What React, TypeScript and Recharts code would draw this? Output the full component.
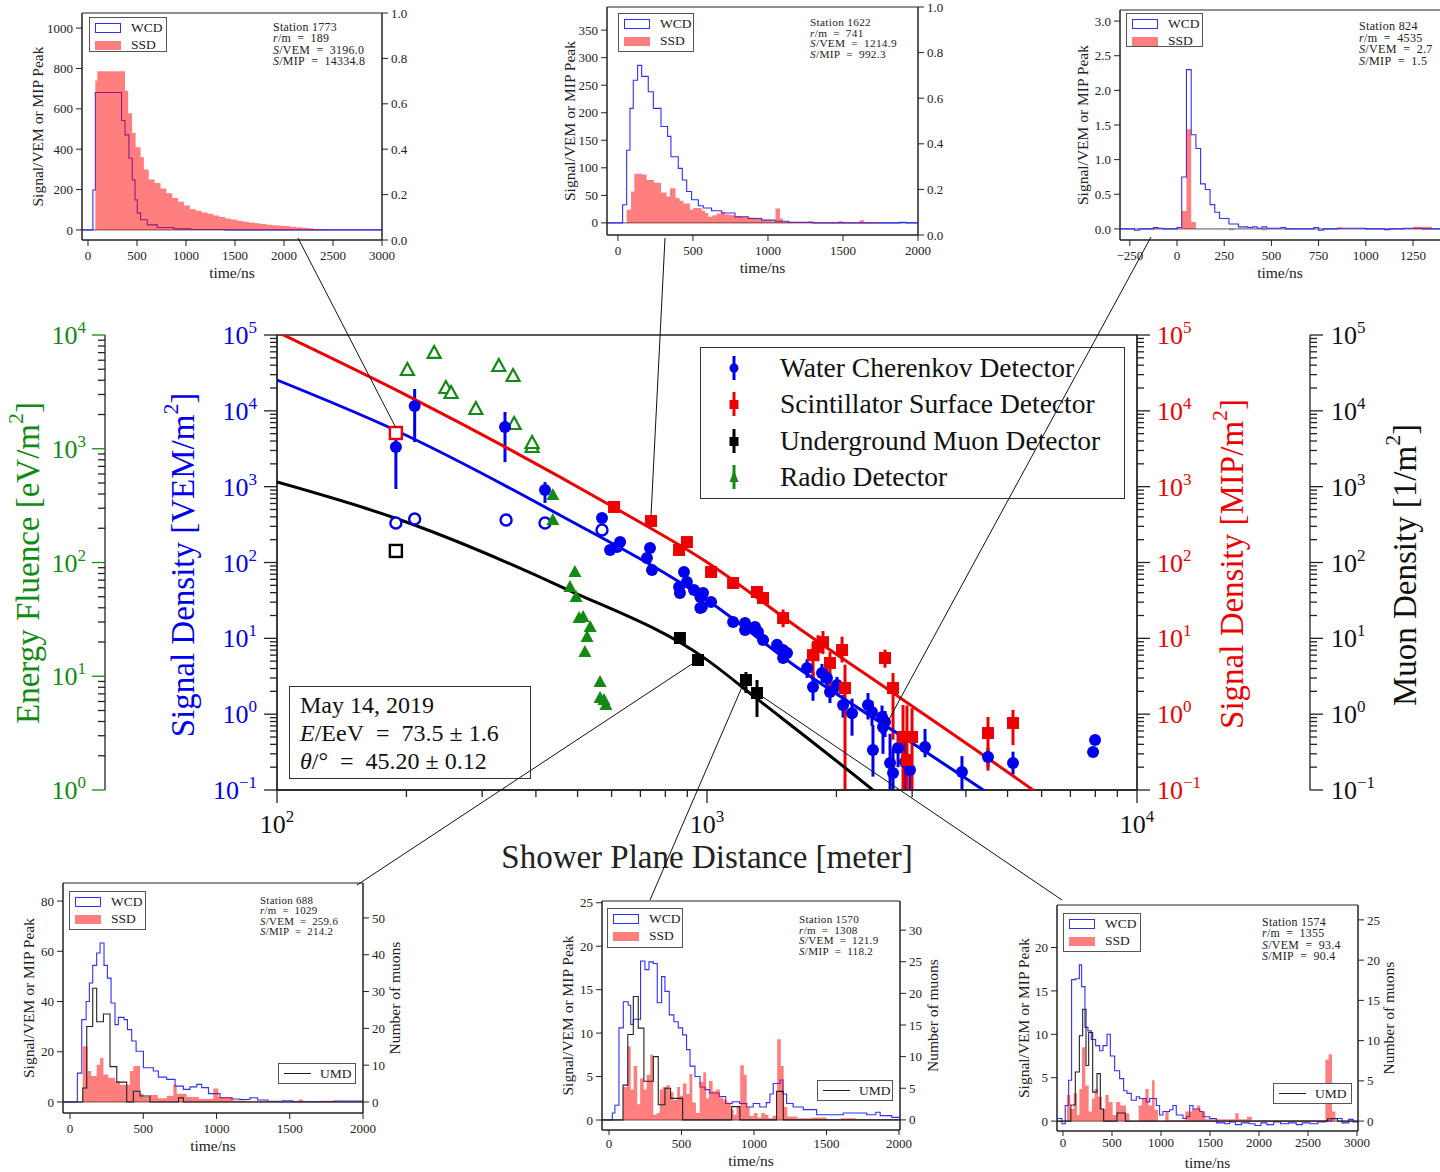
import React from "react";
import {
  ComposedChart,
  Scatter,
  Line,
  Area,
  XAxis,
  YAxis,
  ErrorBar,
  Legend,
  ReferenceArea,
  ReferenceLine,
} from "recharts";

const FONT = '"Liberation Serif", "DejaVu Serif", serif';
const BLUE = "#0000ee";
const RED = "#ee0000";
const GREEN = "#138a13";
const INK = "#222222";
const WCD_LINE = "#2f2fff";

// ---------------- lateral distribution (main panel) ----------------
// [r / m, signal, lower end of error bar, upper end] (0 = no visible bar)
const wcdHits = [
  [189, 3330, 931, 5590],
  [209, 11600, 3880, 19400],
  [339, 6120, 2110, 9660],
  [420, 904, 610, 1150],
  [570, 386, 0, 0],
  [595, 146, 0, 0],
  [618, 160, 0, 0],
  [628, 186, 0, 0],
  [725, 115, 0, 0],
  [737, 155, 0, 0],
  [745, 79.6, 0, 0],
  [861, 47.5, 0, 0],
  [865, 39.6, 0, 0],
  [884, 75, 0, 0],
  [898, 55.3, 0, 0],
  [933, 43.4, 0, 0],
  [965, 35.1, 0, 0],
  [965, 25.1, 0, 0],
  [973, 25.9, 0, 0],
  [979, 39.6, 0, 0],
  [1022, 30.1, 0, 0],
  [1150, 16.4, 0, 0],
  [1226, 15.9, 0, 0],
  [1226, 12.9, 0, 0],
  [1293, 14.1, 0, 0],
  [1314, 12.1, 0, 0],
  [1350, 9.5, 0, 0],
  [1455, 8.2, 0, 0],
  [1503, 7.0, 0, 0],
  [1503, 5.5, 0, 0],
  [1535, 6.4, 0, 0],
  [1709, 4.06, 3.0, 5.3],
  [1764, 2.28, 1.5, 3.6],
  [1851, 3.49, 2.6, 4.6],
  [1901, 3.0, 2.3, 3.9],
  [1932, 1.96, 1.4, 2.6],
  [2006, 2.42, 1.8, 3.1],
  [2072, 1.32, 0.9, 1.8],
  [2174, 1.03, 0.52, 1.6],
  [2368, 1.32, 0.85, 1.9],
  [2419, 1.07, 0.7, 1.5],
  [2432, 0.336, 0.15, 0.72],
  [2553, 0.916, 0.55, 1.3],
  [2566, 0.677, 0.3, 1.0],
  [2594, 0.787, 0.5, 1.1],
  [2665, 0.227, 0.1, 0.55],
  [2708, 0.168, 0.1, 0.35],
  [2782, 0.358, 0.2, 0.6],
  [2888, 0.234, 0.1, 0.45],
  [2966, 0.183, 0.1, 0.3],
  [3214, 0.369, 0.27, 0.64],
  [3917, 0.173, 0.1, 0.28],
  [4503, 0.272, 0.2, 0.36],
  [5148, 0.227, 0.16, 0.32],
  [7904, 0.317, 0, 0],
  [7989, 0.456, 0, 0],
];
const wcdSaturated = [[189, 332], [209, 375], [341, 363], [420, 332], [570, 268]];

const ssdHits = [
  [608, 540, 0, 0],
  [741, 352, 0, 0],
  [861, 146, 0, 0],
  [898, 186, 0, 0],
  [1022, 75, 0, 0],
  [1150, 53.7, 0, 0],
  [1307, 40.8, 0, 0],
  [1350, 34.0, 0, 0],
  [1503, 18.5, 14, 24],
  [1764, 6.0, 2.8, 8.7],
  [1812, 7.7, 5, 11],
  [1861, 8.9, 6.2, 12.5],
  [1932, 4.73, 2.2, 6.6],
  [2061, 7.0, 4.8, 10.5],
  [2094, 2.21, 0.1, 4.5],
  [2594, 5.5, 4.1, 7.1],
  [2708, 2.21, 0.46, 3.5],
  [2857, 0.5, 0.1, 1.32],
  [2918, 0.248, 0.1, 1.3],
  [2998, 0.5, 0.1, 1.2],
  [4503, 0.564, 0.18, 0.92],
  [5148, 0.764, 0.39, 1.14],
];
const ssdSaturated = [[189, 5100]];

const umdHits = [
  [865, 10.1, 0, 0],
  [953, 5.18, 0, 0],
  [1232, 2.82, 1.9, 3.6],
  [1307, 1.9, 0.92, 2.82],
];
const umdSaturated = [[189, 142]];

// energy fluence / (eV/m2)
const radioHits = [
  [438, 392], [438, 236], [493, 82.5], [480, 60.9], [496, 49.7], [504, 32.5], [515, 33.2],
  [535, 27.1], [526, 22.1], [520, 16.3], [564, 8.9], [564, 6.44], [576, 6.18], [582, 5.59],
];
const radioOpen = [
  [201, 4925], [232, 6950], [247, 3420], [254, 3090], [290, 2236], [328, 5340], [354, 4360],
  [356, 1651], [392, 1036], [392, 1124],
];

// fitted lateral distribution functions
const wcdFit = [[100, 25500], [188, 5590], [441, 463], [1000, 32], [1644, 3.9], [2810, 0.53], [4390, 0.1], [4700, 0.077]];
const ssdFit = [[100, 110000], [204, 15200], [594, 573], [1000, 101], [1644, 13.3], [2810, 1.65], [5730, 0.1], [6000, 0.083]];
const umdFit = [[100, 1150], [188, 386], [465, 46], [1000, 5.2], [1306, 1.6], [2430, 0.1], [2550, 0.08]];

const legendOrder = [
  "Water Cherenkov Detector",
  "Scintillator Surface Detector",
  "Underground Muon Detector",
  "Radio Detector",
];

const withErr = (rows: number[][]) =>
  rows.map(([r, s, lo, hi]) => ({ r, s, err: lo > 0 ? [s - lo, hi - s] : [0, 0] }));
const plain = (rows: number[][]) => rows.map(([r, s]) => ({ r, s }));

function logTicks(lo: number, hi: number) {
  const out: number[] = [];
  for (let e = lo; e < hi; e++) for (let m = 1; m < 10; m++) out.push(m * Math.pow(10, e));
  out.push(Math.pow(10, hi));
  return out;
}
const distTicks = logTicks(2, 4);
const signalTicks = logTicks(-1, 5);
const fluenceTicks = logTicks(0, 4);

function makeLogTick(side: "left" | "right" | "bottom", color: string, gap: number, majorColor = INK) {
  return function LogTick(props: any) {
    const { x, y, payload } = props;
    const v = Number(payload?.value);
    const lg = Math.log10(v);
    const e = Math.round(lg);
    const major = Math.abs(lg - e) < 1e-6;
    const len = major ? 13 : 7;
    const exp = e < 0 ? "\u2212" + -e : String(e);
    const body = (
      <>
        10
        <tspan dy={-11} fontSize={17}>
          {exp}
        </tspan>
      </>
    );
    if (side === "bottom") {
      return (
        <g>
          <line x1={x} x2={x} y1={y} y2={y + len} stroke={INK} strokeWidth={1.3} />
          {major && (
            <text x={x} y={y + 43} textAnchor="middle" fontSize={26} fill={color} fontFamily={FONT}>
              {body}
            </text>
          )}
        </g>
      );
    }
    const dir = side === "left" ? -1 : 1;
    return (
      <g>
        <line x1={x} x2={x + dir * len} y1={y} y2={y} stroke={major ? majorColor : INK} strokeWidth={1.3} />
        {major && (
          <text
            x={x + dir * gap}
            y={y + 9}
            textAnchor={side === "left" ? "end" : "start"}
            fontSize={26}
            fill={color}
            fontFamily={FONT}
          >
            {body}
          </text>
        )}
      </g>
    );
  };
}

const VTitle = ({ px, py, color, size, head, unit }: any) => (
  <text
    transform={`translate(${px},${py}) rotate(-90)`}
    textAnchor="middle"
    dominantBaseline="central"
    fill={color}
    fontSize={size}
    fontFamily={FONT}
  >
    {head} [{unit}
    <tspan dy={-12} fontSize={size * 0.66}>
      2
    </tspan>
    <tspan dy={12}>]</tspan>
  </text>
);

const HTitle = ({ px, py, size, text, color = INK }: any) => (
  <text x={px} y={py} textAnchor="middle" fill={color} fontSize={size} fontFamily={FONT}>
    {text}
  </text>
);

function shape(kind: string, color: string, filled: boolean) {
  return function Mark(p: any) {
    const { cx, cy } = p;
    if (!Number.isFinite(cx) || !Number.isFinite(cy)) return <g />;
    const fill = filled ? color : "#fff";
    const sw = filled ? 0 : 2.4;
    if (kind === "circle") return <circle cx={cx} cy={cy} r={filled ? 6 : 5.5} fill={fill} stroke={color} strokeWidth={sw} />;
    if (kind === "square")
      return <rect x={cx - 6} y={cy - 6} width={12} height={12} fill={fill} stroke={color} strokeWidth={sw} />;
    return (
      <polygon
        points={`${cx},${cy - 7} ${cx - 6.5},${cy + 5} ${cx + 6.5},${cy + 5}`}
        fill={fill}
        stroke={color}
        strokeWidth={filled ? 0 : 2.2}
      />
    );
  };
}
const noDot = () => <g />;

const legendGlyphs: Record<string, { color: string; kind: string }> = {
  "Water Cherenkov Detector": { color: BLUE, kind: "circle" },
  "Scintillator Surface Detector": { color: RED, kind: "square" },
  "Underground Muon Detector": { color: "#000", kind: "square" },
  "Radio Detector": { color: GREEN, kind: "triangle" },
};

function MainOverlay(props: any) {
  const items = (props.payload || [])
    .filter((p: any) => legendGlyphs[p.value])
    .sort((a: any, b: any) => legendOrder.indexOf(a.value) - legendOrder.indexOf(b.value));
  return (
    <div style={{ position: "relative", width: 1440, height: 580, fontFamily: FONT, color: "#111" }}>
      <div
        style={{
          position: "absolute",
          left: 700,
          top: 47,
          width: 425,
          height: 152,
          border: "1.5px solid #333",
          background: "#fff",
          boxSizing: "border-box",
        }}
      >
        {items.map((it: any, i: number) => {
          const g = legendGlyphs[it.value];
          return (
            <div key={it.value} style={{ position: "absolute", left: 0, top: 2 + i * 36.3, width: 420, height: 36 }}>
              <svg width={60} height={36} style={{ position: "absolute", left: 13, top: 0 }}>
                <line x1={20} x2={20} y1={6} y2={30} stroke={g.color} strokeWidth={3} />
                {g.kind === "circle" && <circle cx={20} cy={18} r={4.5} fill={g.color} />}
                {g.kind === "square" && <rect x={15.5} y={14} width={9} height={9} fill={g.color} />}
                {g.kind === "triangle" && <polygon points="20,11 15.5,23 24.5,23" fill={g.color} />}
              </svg>
              <span
                style={{
                  position: "absolute",
                  left: 79,
                  top: 0,
                  lineHeight: "36px",
                  fontSize: 27.5,
                  whiteSpace: "nowrap",
                }}
              >
                {it.value}
              </span>
            </div>
          );
        })}
      </div>
      <div
        style={{
          position: "absolute",
          left: 289,
          top: 386,
          width: 242,
          height: 93,
          border: "1.5px solid #333",
          background: "#fff",
          boxSizing: "border-box",
          padding: "4px 0 0 10px",
          fontSize: 24,
          lineHeight: "28px",
          whiteSpace: "nowrap",
        }}
      >
        <div>May 14, 2019</div>
        <div>
          <i>E</i>/EeV{"\u2002=\u2002"}73.5 ± 1.6
        </div>
        <div>
          <i>θ</i>/°{"\u2002=\u2002"}45.20 ± 0.12
        </div>
      </div>
    </div>
  );
}

function MainChart() {
  return (
    <ComposedChart width={1440} height={580} margin={{ top: 35, right: 0, bottom: 0, left: 0 }}>
      <XAxis
        dataKey="r"
        type="number"
        scale="log"
        domain={[100, 10000]}
        allowDataOverflow
        ticks={distTicks}
        interval={0}
        height={90}
        tickLine={false}
        tickSize={0}
        tickMargin={0}
        tick={makeLogTick("bottom", "#111", 0)}
        stroke={INK}
        strokeWidth={1.3}
        label={<HTitle px={707} py={568} size={33} text="Shower Plane Distance [meter]" />}
      />
      <YAxis
        yAxisId="b_radio"
        dataKey="s"
        type="number"
        scale="log"
        domain={[1, 10000]}
        allowDataOverflow
        ticks={fluenceTicks}
        interval={0}
        width={105}
        tickLine={false}
        tickSize={0}
        tickMargin={0}
        tick={makeLogTick("left", GREEN, 19, GREEN)}
        stroke={INK}
        strokeWidth={1.3}
        label={<VTitle px={28} py={263} color={GREEN} size={33} head="Energy Fluence" unit="eV/m" />}
      />
      <YAxis
        yAxisId="a_vem"
        dataKey="s"
        type="number"
        scale="log"
        domain={[0.1, 100000]}
        allowDataOverflow
        ticks={signalTicks}
        interval={0}
        width={172}
        tickLine={false}
        tickSize={0}
        tickMargin={0}
        tick={makeLogTick("left", BLUE, 20)}
        stroke={INK}
        strokeWidth={1.3}
        label={<VTitle px={183} py={265} color={BLUE} size={33} head="Signal Density" unit="VEM/m" />}
      />
      <YAxis
        yAxisId="c_mip"
        orientation="right"
        dataKey="s"
        type="number"
        scale="log"
        domain={[0.1, 100000]}
        allowDataOverflow
        ticks={signalTicks}
        interval={0}
        width={173}
        tickLine={false}
        tickSize={0}
        tickMargin={0}
        tick={makeLogTick("right", RED, 20)}
        stroke={INK}
        strokeWidth={1.3}
        label={<VTitle px={1232} py={264} color={RED} size={33} head="Signal Density" unit="MIP/m" />}
      />
      <YAxis
        yAxisId="d_muon"
        orientation="right"
        dataKey="s"
        type="number"
        scale="log"
        domain={[0.1, 100000]}
        allowDataOverflow
        ticks={signalTicks}
        interval={0}
        width={130}
        tickLine={false}
        tickSize={0}
        tickMargin={0}
        tick={makeLogTick("right", "#111", 21)}
        stroke={INK}
        strokeWidth={1.3}
        label={<VTitle px={1405} py={265} color="#111" size={33} head="Muon Density" unit="1/m" />}
      />
      <ReferenceArea
        yAxisId="a_vem"
        x1={100}
        x2={10000}
        y1={0.1}
        y2={100000}
        fill="none"
        fillOpacity={0}
        stroke={INK}
        strokeWidth={1.3}
      />

      <Scatter yAxisId="a_vem" data={plain(wcdFit)} dataKey="s" line={{ stroke: BLUE, strokeWidth: 3 }} lineJointType="monotoneX" shape={noDot} legendType="none" isAnimationActive={false} />
      <Scatter yAxisId="c_mip" data={plain(ssdFit)} dataKey="s" line={{ stroke: RED, strokeWidth: 3 }} lineJointType="monotoneX" shape={noDot} legendType="none" isAnimationActive={false} />
      <Scatter yAxisId="d_muon" data={plain(umdFit)} dataKey="s" line={{ stroke: "#000", strokeWidth: 3 }} lineJointType="monotoneX" shape={noDot} legendType="none" isAnimationActive={false} />

      <Scatter yAxisId="b_radio" data={plain(radioOpen)} dataKey="s" shape={shape("triangle", GREEN, false)} legendType="none" isAnimationActive={false} />
      <Scatter yAxisId="a_vem" data={plain(wcdSaturated)} dataKey="s" shape={shape("circle", BLUE, false)} legendType="none" isAnimationActive={false} />
      <Scatter yAxisId="c_mip" data={plain(ssdSaturated)} dataKey="s" shape={shape("square", RED, false)} legendType="none" isAnimationActive={false} />
      <Scatter yAxisId="d_muon" data={plain(umdSaturated)} dataKey="s" shape={shape("square", "#000", false)} legendType="none" isAnimationActive={false} />

      <Scatter name="Water Cherenkov Detector" yAxisId="a_vem" data={withErr(wcdHits)} dataKey="s" fill={BLUE} shape={shape("circle", BLUE, true)} isAnimationActive={false}>
        <ErrorBar dataKey="err" direction="y" width={0} stroke={BLUE} strokeWidth={3} />
      </Scatter>
      <Scatter name="Scintillator Surface Detector" yAxisId="c_mip" data={withErr(ssdHits)} dataKey="s" fill={RED} shape={shape("square", RED, true)} isAnimationActive={false}>
        <ErrorBar dataKey="err" direction="y" width={0} stroke={RED} strokeWidth={3} />
      </Scatter>
      <Scatter name="Underground Muon Detector" yAxisId="d_muon" data={withErr(umdHits)} dataKey="s" fill="#000" shape={shape("square", "#000", true)} isAnimationActive={false}>
        <ErrorBar dataKey="err" direction="y" width={0} stroke="#000" strokeWidth={3} />
      </Scatter>
      <Scatter name="Radio Detector" yAxisId="b_radio" data={plain(radioHits)} dataKey="s" fill={GREEN} shape={shape("triangle", GREEN, true)} isAnimationActive={false} />

      <Legend
        content={MainOverlay}
        layout="horizontal"
        verticalAlign="middle"
        align="center"
        wrapperStyle={{ left: 0, top: 0, width: 1440, height: 580 }}
      />
    </ComposedChart>
  );
}

// ---------------- station traces (insets) ----------------
// step histograms: [bin start / ns, value]
const st1773Wcd = [[-61, 0], [50, 198], [75, 681], [343, 542], [378, 471], [418, 355], [452, 248], [480, 149], [503, 83], [537, 50], [605, 25], [707, 12], [877, 5], [1048, 2], [1400, 0], [3000, 0]];
const st1773Ssd = [[-61, 0], [75, 740], [95, 786], [378, 690], [410, 578], [450, 480], [486, 410], [537, 360], [571, 300], [620, 250], [680, 232], [740, 205], [800, 182], [860, 158], [920, 140], [980, 121], [1040, 102], [1100, 95], [1160, 86], [1220, 80], [1280, 72], [1340, 64], [1400, 57], [1460, 51], [1520, 46], [1580, 41], [1640, 37], [1700, 33], [1760, 29], [1820, 26], [1880, 23], [1940, 21], [2000, 19], [2060, 16], [2120, 13], [2180, 11], [2240, 8], [2300, 4], [2360, 2], [2420, 0], [3000, 0]];

const st1622Wcd = [[-73, 0], [31, 33], [58, 132], [80, 208], [102, 259], [131, 286], [158, 266], [202, 238], [236, 208], [287, 175], [331, 157], [353, 120], [402, 99], [429, 78], [458, 57], [491, 42], [536, 31], [569, 27], [624, 22], [691, 18], [780, 11], [869, 8], [958, 5], [1047, 3], [1136, 1], [1300, 0], [1880, 1], [1920, 0], [2000, 0]];
const st1622Ssd = [[-73, 0], [58, 24], [87, 57], [109, 89], [162, 88], [191, 78], [240, 73], [287, 55], [324, 48], [347, 63], [384, 45], [410, 40], [436, 35], [480, 24], [502, 27], [558, 22], [580, 18], [602, 11], [630, 14], [658, 17], [690, 20], [713, 15], [750, 14], [780, 12], [830, 10], [913, 7], [960, 5], [1024, 3], [1050, 26], [1080, 8], [1100, 2], [1150, 1], [1270, 3], [1300, 1], [1470, 3], [1500, 1], [1610, 5], [1640, 1], [1700, 0.5], [1750, 0], [2000, 0]];

const st824Wcd = [[-302, 0], [-225, -0.02], [-200, 0], [-125, 0.02], [-100, 0.01], [-75, 0], [0, 0.02], [25, 0.75], [50, 2.3], [75, 1.36], [100, 1.16], [125, 0.65], [150, 0.57], [175, 0.35], [200, 0.24], [225, 0.15], [275, 0.07], [325, 0.03], [375, 0.02], [400, 0.03], [425, 0.01], [450, 0.03], [475, 0.01], [550, 0.02], [575, 0], [725, 0.02], [750, -0.02], [775, 0], [850, 0.01], [1000, 0], [1100, -0.01], [1125, 0], [1200, 0.01], [1300, 0], [1480, 0]];
const st824Ssd = [[-302, 0], [-125, 0.02], [-100, 0], [25, 0.26], [50, 1.44], [75, 0.1], [100, 0], [275, -0.02], [300, 0], [450, -0.02], [475, 0], [850, 0.02], [875, 0], [1125, -0.01], [1150, 0], [1250, 0.03], [1350, 0], [1480, 0]];

const st688Wcd = [[-48, 0], [50, 11.5], [80, 32.8], [110, 40], [132, 47.4], [155, 54.4], [182, 59.3], [205, 63.3], [232, 54.4], [255, 49.3], [280, 39.4], [307, 30.8], [330, 33.7], [369, 32.8], [392, 28.8], [421, 24.3], [451, 20.2], [501, 13.6], [569, 12.3], [603, 9.9], [660, 9], [717, 6.3], [774, 5], [819, 6], [865, 7], [899, 5.7], [945, 3.3], [1024, 1.7], [1100, 1.2], [1160, 1], [1228, 1.7], [1280, 0.8], [1350, 0.3], [1450, 0.5], [1520, 0.2], [1800, 0.4], [2000, 0.4]];
const st688Ssd = [[-48, 0], [87, 22.2], [121, 12.3], [144, 10.3], [182, 14.8], [205, 17.5], [228, 10.9], [262, 9.6], [307, 8.2], [341, 6.9], [409, 12.3], [432, 14.3], [478, 3.3], [501, 2], [546, 2.8], [600, 1.5], [660, 2.5], [705, 6.9], [728, 3.3], [796, 2], [880, 1.2], [978, 5.4], [1012, 2], [1115, 0.6], [1200, 0.2], [1300, 0.4], [1420, 0.1], [1560, 1], [1590, 0.2], [1700, 0.5], [1800, 0.2], [2000, 0]];
const st688Umd = [[-48, 0], [87, 3.8], [114, 20.5], [155, 30.9], [182, 21.8], [228, 23.9], [273, 9.6], [319, 5.4], [387, 0], [432, 2.9], [478, 1.6], [546, 0], [740, 1.1], [774, 0], [2000, 0]];

const st1570Wcd = [[-48, 0], [23, 0.8], [41, 1.7], [69, 10.6], [99, 13.6], [133, 13.2], [150, 11], [168, 11.6], [218, 18.3], [248, 17.3], [276, 18.2], [306, 18], [333, 13.5], [363, 16.5], [386, 14.8], [416, 12.1], [448, 11.3], [478, 10.6], [508, 9.8], [535, 8.1], [559, 6.2], [593, 5], [628, 3.8], [662, 3.5], [692, 3.1], [760, 2.7], [805, 1.9], [850, 2.1], [900, 1.9], [950, 1.5], [995, 1.9], [1040, 1.5], [1085, 2], [1110, 3], [1133, 4.2], [1180, 4.6], [1200, 3], [1225, 1.9], [1270, 1.5], [1340, 1.2], [1432, 0.6], [1616, 0.8], [1777, 0.6], [1840, 0.9], [1870, 0.5], [1950, 0.3], [2007, 0.3]];
const st1570Ssd = [[-48, 0], [97, 3.8], [125, 8.5], [150, 3.5], [170, 6.2], [195, 1.8], [215, 4.8], [240, 3.5], [260, 5.2], [285, 7.5], [305, 0.6], [330, 0.8], [350, 3.5], [370, 3.8], [395, 4], [420, 3.2], [445, 2.3], [470, 3.8], [490, 2.8], [510, 4.2], [535, 3], [555, 5.3], [575, 2], [600, 0.8], [625, 4.4], [650, 5.5], [670, 2.5], [690, 4.5], [715, 3.3], [740, 3.5], [765, 2.6], [790, 2.3], [815, 2], [840, 1.2], [860, 0.6], [880, 1.5], [905, 6.3], [930, 5.2], [950, 1.5], [970, 0.5], [1000, 0.8], [1025, 0.3], [1050, 0.8], [1075, 0.6], [1100, 0.2], [1130, 0.5], [1160, 9.3], [1185, 6.2], [1205, 1.5], [1230, 0.4], [1300, 0.2], [1400, 0.3], [1500, 0.1], [1600, 0.2], [1700, 0.1], [2007, 0]];
const st1570Umd = [[-48, 0], [97, 5.5], [130, 13.5], [168, 19.5], [202, 14.5], [241, 6.1], [306, 10], [340, 2.4], [386, 5], [425, 3.4], [508, 0], [846, 2.1], [903, 0], [1156, 4.5], [1202, 0], [2007, 0]];

const st1574Wcd = [[-61, 0.3], [-11, -0.3], [23, 1.8], [58, 4.7], [88, 16.3], [126, 16.4], [167, 18], [190, 15.5], [224, 10.8], [255, 10.4], [289, 9.4], [333, 8.7], [374, 8.1], [408, 8.7], [449, 10], [483, 7.5], [527, 5.8], [578, 4.9], [619, 3.5], [653, 3.2], [697, 2.4], [748, 2.8], [782, 2.6], [850, 2.2], [884, 2.6], [952, 1.8], [986, 0.7], [1020, 1.1], [1088, 1.3], [1122, 1.8], [1156, 0.7], [1224, 0.3], [1258, 0.5], [1293, 1.8], [1327, 1.4], [1395, 1.1], [1429, 0.5], [1497, 0.3], [1565, -0.2], [1650, -0.3], [1700, -0.1], [1760, -0.4], [1820, -0.2], [1900, -0.3], [1960, -0.5], [2020, -0.2], [2080, -0.4], [2150, -0.1], [2220, -0.3], [2300, -0.2], [2380, -0.4], [2440, -0.2], [2520, -0.3], [2600, -0.1], [2677, 0], [2740, 0.3], [2847, -0.2], [2915, 0.2], [2960, -0.1], [3010, 0]];
const st1574Ssd = [[-61, 0], [41, 3], [75, 1.4], [109, 3.2], [143, 0.7], [167, 3.7], [194, 8.5], [228, 4.1], [262, 1.1], [296, 2.6], [323, 3.7], [357, 2.8], [398, 1.4], [432, 3], [466, 2.2], [507, 0.7], [541, 2.2], [585, 1.8], [643, 0.9], [677, 0], [772, 1.8], [806, 2.6], [840, 3.7], [874, 1.8], [908, 4.7], [935, 1.3], [969, 0], [1044, 1.1], [1078, 0.1], [1248, 1.1], [1316, 1.4], [1367, 1.8], [1401, 1.1], [1452, 0.2], [1758, 0.9], [1792, 0.2], [1877, 0.5], [1928, 0.1], [2677, 7.1], [2711, 7.7], [2745, 1.1], [2779, 0], [3010, 0]];
const st1574Umd = [[-61, 0], [81, 2], [126, 6.1], [167, 10.6], [201, 13.9], [235, 6.9], [262, 11], [303, 3.6], [347, 5.9], [381, 1.5], [415, 0], [551, 1], [636, 0], [2700, 0.3], [2800, 0], [3010, 0]];

interface InsetCfg {
  frame: number[];
  xDomain: number[];
  xTicks: number[];
  lDomain: number[];
  lTicks: number[];
  lDigits: number;
  rDomain: number[];
  rTicks: number[];
  rDigits: number;
  rTitle?: boolean;
  rOffCanvas?: boolean;
  wcd: number[][];
  ssd: number[][];
  umd?: number[][];
  station: string[];
  stationAt: number[];
  legendAt: number[];
  umdAt?: number[];
  titleGap: number;
  rTitleGap?: number;
  xTitleGap?: number;
  xTickGap?: number[];
}

const insets: InsetCfg[] = [
  {
    frame: [82, 13, 382, 240], xDomain: [-61, 3000], xTicks: [0, 500, 1000, 1500, 2000, 2500, 3000],
    lDomain: [-50, 1075], lTicks: [0, 200, 400, 600, 800, 1000], lDigits: 0,
    rDomain: [0, 1], rTicks: [0, 0.2, 0.4, 0.6, 0.8, 1], rDigits: 1,
    wcd: st1773Wcd, ssd: st1773Ssd, station: ["1773", "189", "3196.0", "14334.8"],
    stationAt: [273, 22, 11.3], legendAt: [89, 17, 78, 35], titleGap: 45,
  },
  {
    frame: [607, 7, 918, 235], xDomain: [-73, 2000], xTicks: [0, 500, 1000, 1500, 2000],
    lDomain: [-22, 392], lTicks: [0, 50, 100, 150, 200, 250, 300, 350], lDigits: 0,
    rDomain: [0, 1], rTicks: [0, 0.2, 0.4, 0.6, 0.8, 1], rDigits: 1,
    wcd: st1622Wcd, ssd: st1622Ssd, station: ["1622", "741", "1214.9", "992.3"],
    stationAt: [810, 17, 10.7], legendAt: [618, 13, 76, 39], titleGap: 38,
  },
  {
    frame: [1120, 10, 1467, 240], xDomain: [-302, 1536], xTicks: [-250, 0, 250, 500, 750, 1000, 1250],
    lDomain: [-0.16, 3.16], lTicks: [0, 0.5, 1, 1.5, 2, 2.5, 3], lDigits: 1,
    rDomain: [0, 1], rTicks: [0, 0.2, 0.4, 0.6, 0.8, 1], rDigits: 1, rOffCanvas: true,
    wcd: st824Wcd, ssd: st824Ssd, station: ["824", "4535", "2.7", "1.5"],
    stationAt: [1359, 21, 11.5], legendAt: [1126, 13, 77, 34], titleGap: 38,
  },
  {
    frame: [63, 883, 363, 1113], xDomain: [-48, 2000], xTicks: [0, 500, 1000, 1500, 2000],
    lDomain: [-4.4, 87.2], lTicks: [0, 20, 40, 60, 80], lDigits: 0,
    rDomain: [-3, 59.5], rTicks: [0, 10, 20, 30, 40, 50], rDigits: 0, rTitle: true, rTitleGap: 31,
    wcd: st688Wcd, ssd: st688Ssd, umd: st688Umd, station: ["688", "1029", "259.6", "214.2"],
    stationAt: [260, 895, 10.3], legendAt: [69, 891, 77, 39], umdAt: [278, 1063, 78, 21], titleGap: 35,
  },
  {
    frame: [602, 901, 900, 1130], xDomain: [-48, 2007], xTicks: [0, 500, 1000, 1500, 2000],
    lDomain: [-1.15, 25.2], lTicks: [0, 5, 10, 15, 20, 25], lDigits: 0,
    rDomain: [-1.6, 34.6], rTicks: [0, 5, 10, 15, 20, 25, 30], rDigits: 0, rTitle: true, rTitleGap: 32,
    wcd: st1570Wcd, ssd: st1570Ssd, umd: st1570Umd, station: ["1570", "1308", "121.9", "118.2"],
    stationAt: [799, 914, 10.5], legendAt: [607, 908, 76, 40], umdAt: [817, 1080, 76, 21], titleGap: 35,
    xTitleGap: 36, xTickGap: [5, 4],
  },
  {
    frame: [1057, 905, 1358, 1131], xDomain: [-61, 3010], xTicks: [0, 500, 1000, 1500, 2000, 2500, 3000],
    lDomain: [-1.14, 24.9], lTicks: [0, 5, 10, 15, 20], lDigits: 0,
    rDomain: [-1.23, 26.85], rTicks: [0, 5, 10, 15, 20, 25], rDigits: 0, rTitle: true, rTitleGap: 30,
    wcd: st1574Wcd, ssd: st1574Ssd, umd: st1574Umd, station: ["1574", "1355", "93.4", "90.4"],
    stationAt: [1262, 917, 11.3], legendAt: [1063, 913, 78, 39], umdAt: [1273, 1083, 79, 21], titleGap: 34,
    xTitleGap: 37, xTickGap: [5, 2],
  },
];

const PADL = 62;
const PADR = 62;
const PADT = 12;
const PADB = 48;
const steps = (rows: number[][]) => rows.map(([t, v]) => ({ t, v }));
const fmt = (d: number) => (v: number) => (v < 0 ? "\u2212" + (-v).toFixed(d) : v.toFixed(d));
const tickStyle = { fontSize: 13, fill: INK, fontFamily: FONT };
const EQ = "\u2002=\u2002";

const InsetVTitle = ({ px, py, text }: any) => (
  <text transform={`translate(${px},${py}) rotate(-90)`} textAnchor="middle" dominantBaseline="central" fill={INK} fontSize={15.5} fontFamily={FONT}>
    {text}
  </text>
);

function Inset({ cfg }: { cfg: InsetCfg }) {
  const [x0, y0, x1, y1] = cfg.frame;
  const W = x1 - x0 + PADL + PADR;
  const H = y1 - y0 + PADT + PADB;
  const ox = x0 - PADL;
  const oy = y0 - PADT;
  const midY = (y0 + y1) / 2 - oy;
  const [lx, ly, lw, lh] = cfg.legendAt;
  const [sx, sy, sp] = cfg.stationAt;
  const sFont = Math.min(12.3, sp + 0.6);
  const [xtSize, xtMargin] = cfg.xTickGap || [6, 5];
  const overlay = () => (
    <div style={{ position: "relative", width: W, height: H, fontFamily: FONT, color: INK }}>
      <div style={{ position: "absolute", left: lx - ox, top: ly - oy, width: lw, height: lh, border: "1px solid #555", background: "#fff", boxSizing: "border-box" }}>
        <div style={{ position: "absolute", left: 5, top: 5, width: 26, height: 10, border: `1.3px solid ${WCD_LINE}`, boxSizing: "border-box" }} />
        <span style={{ position: "absolute", left: 41, top: 2, fontSize: 13.5, lineHeight: "15px" }}>WCD</span>
        <div style={{ position: "absolute", left: 5, top: 23, width: 26, height: 9, background: "rgba(255,0,0,0.5)" }} />
        <span style={{ position: "absolute", left: 41, top: 19, fontSize: 13.5, lineHeight: "15px" }}>SSD</span>
      </div>
      {cfg.umdAt && (
        <div style={{ position: "absolute", left: cfg.umdAt[0] - ox, top: cfg.umdAt[1] - oy, width: cfg.umdAt[2], height: cfg.umdAt[3], border: "1px solid #555", background: "#fff", boxSizing: "border-box" }}>
          <div style={{ position: "absolute", left: 5, top: 9, width: 27, height: 0, borderTop: "1.2px solid #222" }} />
          <span style={{ position: "absolute", left: 41, top: 2, fontSize: 13.5, lineHeight: "15px" }}>UMD</span>
        </div>
      )}
      <div style={{ position: "absolute", left: sx - ox, top: sy - oy, fontSize: sFont, lineHeight: `${sp}px`, letterSpacing: 0.3, whiteSpace: "nowrap" }}>
        <div>Station {cfg.station[0]}</div>
        <div>
          <i>r</i>/m{EQ}{cfg.station[1]}
        </div>
        <div>
          <i>S</i>/VEM{EQ}{cfg.station[2]}
        </div>
        <div>
          <i>S</i>/MIP{EQ}{cfg.station[3]}
        </div>
      </div>
    </div>
  );
  return (
    <div style={{ position: "absolute", left: ox, top: oy }}>
      <ComposedChart width={W} height={H} margin={{ top: PADT, right: 0, bottom: 0, left: 0 }}>
        <XAxis
          dataKey="t"
          type="number"
          domain={cfg.xDomain}
          allowDataOverflow
          ticks={cfg.xTicks}
          interval={0}
          height={PADB}
          tickSize={xtSize}
          tickMargin={xtMargin}
          stroke={INK}
          tick={tickStyle}
          tickFormatter={fmt(0)}
          label={<HTitle px={(Math.min(x1, 1440) + x0) / 2 - ox} py={y1 - oy + (cfg.xTitleGap || 38)} size={15.5} text="time/ns" />}
        />
        <YAxis
          yAxisId="l"
          type="number"
          domain={cfg.lDomain}
          allowDataOverflow
          ticks={cfg.lTicks}
          interval={0}
          width={PADL}
          tickSize={6}
          tickMargin={3}
          stroke={INK}
          tick={tickStyle}
          tickFormatter={fmt(cfg.lDigits)}
          label={<InsetVTitle px={PADL - cfg.titleGap} py={midY} text="Signal/VEM or MIP Peak" />}
        />
        <YAxis
          yAxisId="r"
          orientation="right"
          type="number"
          domain={cfg.rDomain}
          allowDataOverflow
          ticks={cfg.rTicks}
          interval={0}
          width={PADR}
          tickSize={6}
          tickMargin={3}
          stroke={INK}
          tick={cfg.rOffCanvas ? false : tickStyle}
          tickFormatter={fmt(cfg.rDigits)}
          label={cfg.rTitle ? <InsetVTitle px={x1 - ox + (cfg.rTitleGap || 30)} py={midY} text="Number of muons" /> : undefined}
        />
        <ReferenceArea yAxisId="l" x1={cfg.xDomain[0]} x2={cfg.xDomain[1]} y1={cfg.lDomain[0]} y2={cfg.lDomain[1]} fill="none" fillOpacity={0} stroke={INK} strokeWidth={1} />
        <ReferenceLine yAxisId="l" y={0} stroke="#555" strokeWidth={1} />
        <Line yAxisId="l" name="WCD" data={steps(cfg.wcd)} dataKey="v" type="stepAfter" stroke={WCD_LINE} strokeWidth={1.1} dot={false} activeDot={false} isAnimationActive={false} />
        <Area yAxisId="l" name="SSD" data={steps(cfg.ssd)} dataKey="v" type="stepAfter" stroke="none" fill="#ff0000" fillOpacity={0.5} isAnimationActive={false} zIndex={450} />
        {cfg.umd && (
          <Line yAxisId="r" name="UMD" data={steps(cfg.umd)} dataKey="v" type="stepAfter" stroke="#222" strokeWidth={1.1} dot={false} activeDot={false} isAnimationActive={false} zIndex={460} />
        )}
        <Legend content={overlay} layout="horizontal" verticalAlign="middle" align="center" wrapperStyle={{ left: 0, top: 0, width: W, height: H }} />
      </ComposedChart>
    </div>
  );
}

// connector lines between the insets and the stations they show (page pixels)
const connectors = [
  [298, 238, 396, 428],
  [665, 238, 651, 516],
  [1151, 237, 887, 723],
  [357, 885, 698, 660],
  [650, 900, 745, 680],
  [1062, 900, 757, 693],
];

export default function App() {
  return (
    <div
      style={{
        position: "absolute",
        left: 0,
        top: 0,
        width: 1440,
        height: 1172,
        overflow: "hidden",
        background: "#fff",
        fontFamily: FONT,
      }}
    >
      <div style={{ position: "absolute", left: 0, top: 300 }}>
        <MainChart />
      </div>
      {insets.map((c) => (
        <Inset key={c.station[0]} cfg={c} />
      ))}
      <svg width={1440} height={1172} style={{ position: "absolute", left: 0, top: 0, pointerEvents: "none" }}>
        {connectors.map(([a, b, c, d], i) => (
          <line key={i} x1={a} y1={b} x2={c} y2={d} stroke="#111" strokeWidth={1} />
        ))}
      </svg>
    </div>
  );
}
